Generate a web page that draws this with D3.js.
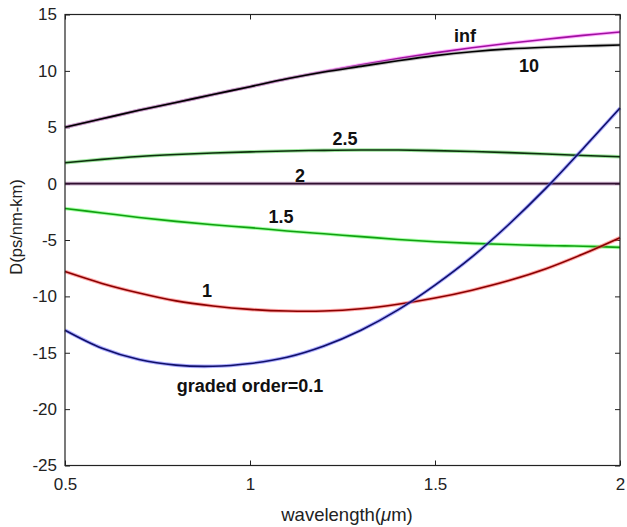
<!DOCTYPE html>
<html>
<head>
<meta charset="utf-8">
<script src="https://cdn.jsdelivr.net/npm/d3@7"></script>
<style>
	body { margin: 0; background: #fff; }
	svg { display: block; font-family: "Liberation Sans", Arial, sans-serif; }
	.tick text { font-size: 17px; fill: #222; }
	.tick line { stroke: #222; }
	.lbl { font-size: 18px; font-weight: bold; fill: #111; }
</style>
</head>
<body>
<svg id="chart" width="627" height="527"></svg>
<script>
// wavelength in um
var wavelength = [0.5, 0.6, 0.7, 0.8, 0.9, 1.0, 1.1, 1.2, 1.3, 1.4, 1.5, 1.6, 1.7, 1.8, 1.9, 2.0];

// dispersion D (ps/nm-km) per graded order
var d_inf = [5.0, 5.75, 6.5, 7.2, 7.9, 8.6, 9.3, 9.95, 10.55, 11.1, 11.6, 12.05, 12.45, 12.8, 13.15, 13.45];
var d_10  = [5.0, 5.75, 6.5, 7.2, 7.9, 8.6, 9.3, 9.9, 10.4, 10.9, 11.35, 11.7, 11.95, 12.1, 12.2, 12.3];
var d_2_5 = [1.85, 2.15, 2.4, 2.58, 2.72, 2.82, 2.9, 2.95, 2.98, 2.98, 2.93, 2.85, 2.75, 2.63, 2.5, 2.38];
var d_2   = [0, 0, 0, 0, 0, 0, 0, 0, 0, 0, 0, 0, 0, 0, 0, 0];
var d_1_5 = [-2.2, -2.6, -3.0, -3.35, -3.65, -3.9, -4.2, -4.45, -4.7, -4.95, -5.15, -5.3, -5.4, -5.5, -5.55, -5.65];
var d_1   = [-7.8, -8.85, -9.7, -10.4, -10.85, -11.15, -11.3, -11.3, -11.1, -10.7, -10.15, -9.45, -8.6, -7.55, -6.25, -4.8];
var d_0_1 = [-13.0, -14.6, -15.6, -16.1, -16.2, -15.95, -15.4, -14.4, -13.0, -11.2, -9.0, -6.5, -3.6, -0.4, 3.1, 6.7];

var xTicks = [0.5, 1, 1.5, 2];
var yTicks = [-25, -20, -15, -10, -5, 0, 5, 10, 15];

var series = [
	{name: "2",   values: d_2,   halo: "#a070a0", core: "#301030"},
	{name: "2.5", values: d_2_5, halo: "#50d050", core: "#0c300c"},
	{name: "1.5", values: d_1_5, halo: "#60ff60", core: "#10a010"},
	{name: "1",   values: d_1,   halo: "#ff6060", core: "#8a0000"},
	{name: "0.1", values: d_0_1, halo: "#6a6aff", core: "#10106a"},
	{name: "inf", values: d_inf, halo: "#ff70ff", core: "#a010a0"},
	{name: "10",  values: d_10,  halo: "#909090", core: "#000000"}
];

// curve labels, anchored in data coordinates
var labels = [
	{text: "inf", w: 1.581, d: 12.55},
	{text: "10", w: 1.754, d: 9.9},
	{text: "2.5", w: 1.257, d: 3.42},
	{text: "2", w: 1.135, d: 0.14},
	{text: "1.5", w: 1.084, d: -3.49},
	{text: "1", w: 0.884, d: -10.05},
	{text: "graded order=0.1", w: 1.0, d: -18.5}
];

var svg = d3.select("#chart");

var x = d3.scaleLinear().domain([0.5, 2]).range([65, 620]);
var y = d3.scaleLinear().domain([-25, 15]).range([465.5, 14.5]);

var plain = function (d) { return String(d); };

var line = d3.line()
	.x(function (d) { return x(d[0]); })
	.y(function (d) { return y(d[1]); })
	.curve(d3.curveCatmullRom.alpha(0.5));

// axes, ticks pointing inward
svg.append("g")
	.attr("transform", "translate(" + x.range()[0] + ",0)")
	.call(d3.axisLeft(y).tickValues(yTicks).tickSize(-5).tickPadding(8).tickFormat(plain));

svg.append("g")
	.attr("transform", "translate(" + x.range()[1] + ",0)")
	.call(d3.axisRight(y).tickValues(yTicks).tickSize(-5).tickFormat(""));

svg.append("g")
	.attr("transform", "translate(0," + y.range()[0] + ")")
	.call(d3.axisBottom(x).tickValues(xTicks).tickSize(-5).tickPadding(12).tickFormat(plain));

svg.append("g")
	.attr("transform", "translate(0," + y.range()[1] + ")")
	.call(d3.axisTop(x).tickValues(xTicks).tickSize(-5).tickFormat(""));

svg.selectAll(".domain").remove();

svg.selectAll(".tick text")
	.attr("font-family", null)
	.attr("font-size", null);

var curveG = svg.append("g").attr("class", "curves");

series.forEach(function (s) {
	var pts = wavelength.map(function (w, i) { return [w, s.values[i]]; });
	curveG.append("path")
		.attr("d", line(pts))
		.attr("fill", "none")
		.attr("stroke", s.halo)
		.attr("stroke-opacity", 0.55)
		.attr("stroke-width", 3.6);
	curveG.append("path")
		.attr("d", line(pts))
		.attr("fill", "none")
		.attr("stroke", s.core)
		.attr("stroke-width", 1.6);
});

// frame
svg.append("rect")
	.attr("x", x.range()[0])
	.attr("y", y.range()[1])
	.attr("width", x.range()[1] - x.range()[0])
	.attr("height", y.range()[0] - y.range()[1])
	.attr("fill", "none")
	.attr("stroke", "#222")
	.attr("stroke-width", 1.2);

svg.selectAll("text.lbl")
	.data(labels)
	.enter()
	.append("text")
	.attr("class", "lbl")
	.attr("x", function (d) { return x(d.w); })
	.attr("y", function (d) { return y(d.d); })
	.attr("text-anchor", "middle")
	.text(function (d) { return d.text; });

// axis titles
svg.append("text")
	.attr("transform", "translate(22,227) rotate(-90)")
	.attr("text-anchor", "middle")
	.attr("font-size", 16.5)
	.attr("fill", "#222")
	.text("D(ps/nm-km)");

var xt = svg.append("text")
	.attr("x", 347)
	.attr("y", 521)
	.attr("text-anchor", "middle")
	.attr("font-size", 18.5)
	.attr("fill", "#222");
xt.append("tspan").text("wavelength(");
xt.append("tspan").attr("font-style", "italic").text("\u03bc");
xt.append("tspan").text("m)");
</script>
</body>
</html>
